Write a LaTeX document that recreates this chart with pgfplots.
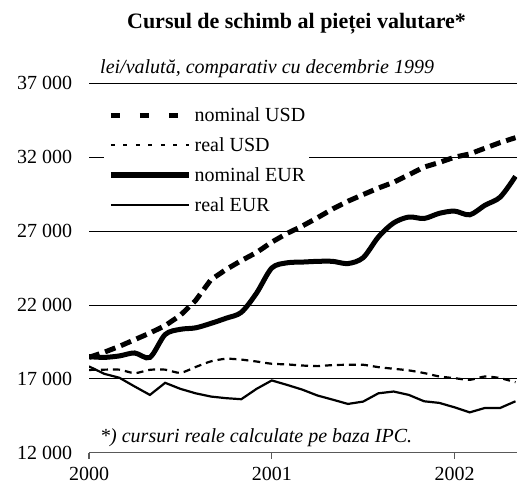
\documentclass[border=0pt]{standalone}
\usepackage{fontspec}
\setmainfont{Liberation Serif}
\usepackage{pgfplots}
\pgfplotsset{compat=1.18}

\begin{document}
\fontsize{20bp}{24bp}\selectfont
\begin{tikzpicture}
\useasboundingbox (0,0) rectangle (520bp,485bp);
\begin{axis}[
  at={(89bp,32.3bp)}, anchor=south west,
  scale only axis, width=428bp, height=369.4bp,
  xmin=0, xmax=28.1, ymin=12000, ymax=37000,
  scaled y ticks=false, scaled x ticks=false,
  axis x line*=bottom, axis y line*=left,
  y axis line style={draw=none},
  x axis line style={black!65, line width=1.2bp, -},
  xtick={0,12,24}, xticklabels={2000,2001,2002},
  ytick={12000,17000,22000,27000,32000,37000},
  yticklabels={12 000,17 000,22 000,27 000,32 000,37 000},
  ytick style={draw=none},
  xtick style={black!65, line width=1.2bp},
  tick align=outside, major tick length=6bp,
  ymajorgrids, grid style={black, line width=0.8bp},
  /pgf/number format/assume math mode=true,
  ticklabel style={font=\fontsize{20bp}{24bp}\selectfont},
  yticklabel style={xshift=-4bp},
  xticklabel style={inner ysep=0pt, yshift=-8.5bp},
  legend style={at={(0.035,0.948)}, anchor=north west, draw=none, fill=white,
    inner xsep=4bp, inner ysep=4bp, row sep=13bp, column sep=3bp,
    nodes={inner sep=0pt, text height=15bp, text depth=2bp},
    font=\fontsize{20bp}{24bp}\selectfont},
  legend cell align=left,
  legend image code/.code={\draw[#1] (0bp,0bp) -- (78bp,0bp);},
]
% nominal USD
\addplot[forget plot, black, line width=5bp, dash pattern=on 11bp off 6bp] coordinates {
(0,18450) (1,18800) (2,19200) (3,19650) (4,20100) (5,20600) (6,21300) (7,22300)
(8,23700) (9,24400) (10,25000) (11,25550) (12,26250) (13,26840) (14,27340)
(15,27900) (16,28500) (17,29020) (18,29470) (19,29910) (20,30300) (21,30810)
(22,31330) (23,31640) (24,32000) (25,32220) (26,32610) (27,32990) (28,33320)};
% real USD
\addplot[forget plot, black, line width=2.2bp, dash pattern=on 7bp off 5bp, smooth, tension=0.4] coordinates {
(0,17600) (1,17620) (2,17620) (3,17380) (4,17610) (5,17620) (6,17400) (7,17800)
(8,18180) (9,18360) (10,18300) (11,18170) (12,18020) (13,17975) (14,17900)
(15,17860) (16,17930) (17,17950) (18,17950) (19,17790) (20,17680) (21,17570)
(22,17390) (23,17160) (24,17045) (25,16930) (26,17160) (27,17045) (28,16770)};
% nominal EUR
\addplot[forget plot, black, line width=5bp, smooth, tension=0.5] coordinates {
(0,18500) (1,18450) (2,18550) (3,18750) (4,18450) (5,20000) (6,20350) (7,20450)
(8,20750) (9,21100) (10,21500) (11,22800) (12,24500) (13,24850) (14,24900)
(15,24950) (16,24950) (17,24800) (18,25200) (19,26600) (20,27550) (21,27950)
(22,27850) (23,28200) (24,28350) (25,28100) (26,28750) (27,29300) (28,30700)};
% real EUR
\addplot[forget plot, black, line width=2.2bp] coordinates {
(0,17840) (1,17340) (2,17070) (3,16480) (4,15910) (5,16730) (6,16320) (7,16020)
(8,15800) (9,15690) (10,15620) (11,16320) (12,16890) (13,16590) (14,16270)
(15,15870) (16,15590) (17,15300) (18,15460) (19,16020) (20,16140) (21,15910)
(22,15480) (23,15370) (24,15070) (25,14730) (26,15030) (27,15030) (28,15480)};
\addlegendimage{black, line width=5bp, dash pattern=on 9bp off 20bp}
\addlegendentry{nominal USD}
\addlegendimage{black, line width=2.2bp, dash pattern=on 4bp off 8.5bp}
\addlegendentry{real USD}
\addlegendimage{black, line width=5.5bp}
\addlegendentry{nominal EUR}
\addlegendimage{black, line width=2.2bp}
\addlegendentry{real EUR}
\end{axis}
\node[font=\bfseries\fontsize{22bp}{26bp}\selectfont, anchor=base, inner sep=0pt] at (296.5bp,456.7bp) {Cursul de schimb al pieței valutare*};
\node[font=\itshape\fontsize{20bp}{24bp}\selectfont, anchor=base west, inner sep=0pt] at (100bp,411bp) {lei/valută, comparativ cu decembrie 1999};
\node[font=\itshape\fontsize{20bp}{24bp}\selectfont, anchor=base west, inner sep=0pt] at (100bp,42.3bp) {*) cursuri reale calculate pe baza IPC.};
\end{tikzpicture}
\end{document}
